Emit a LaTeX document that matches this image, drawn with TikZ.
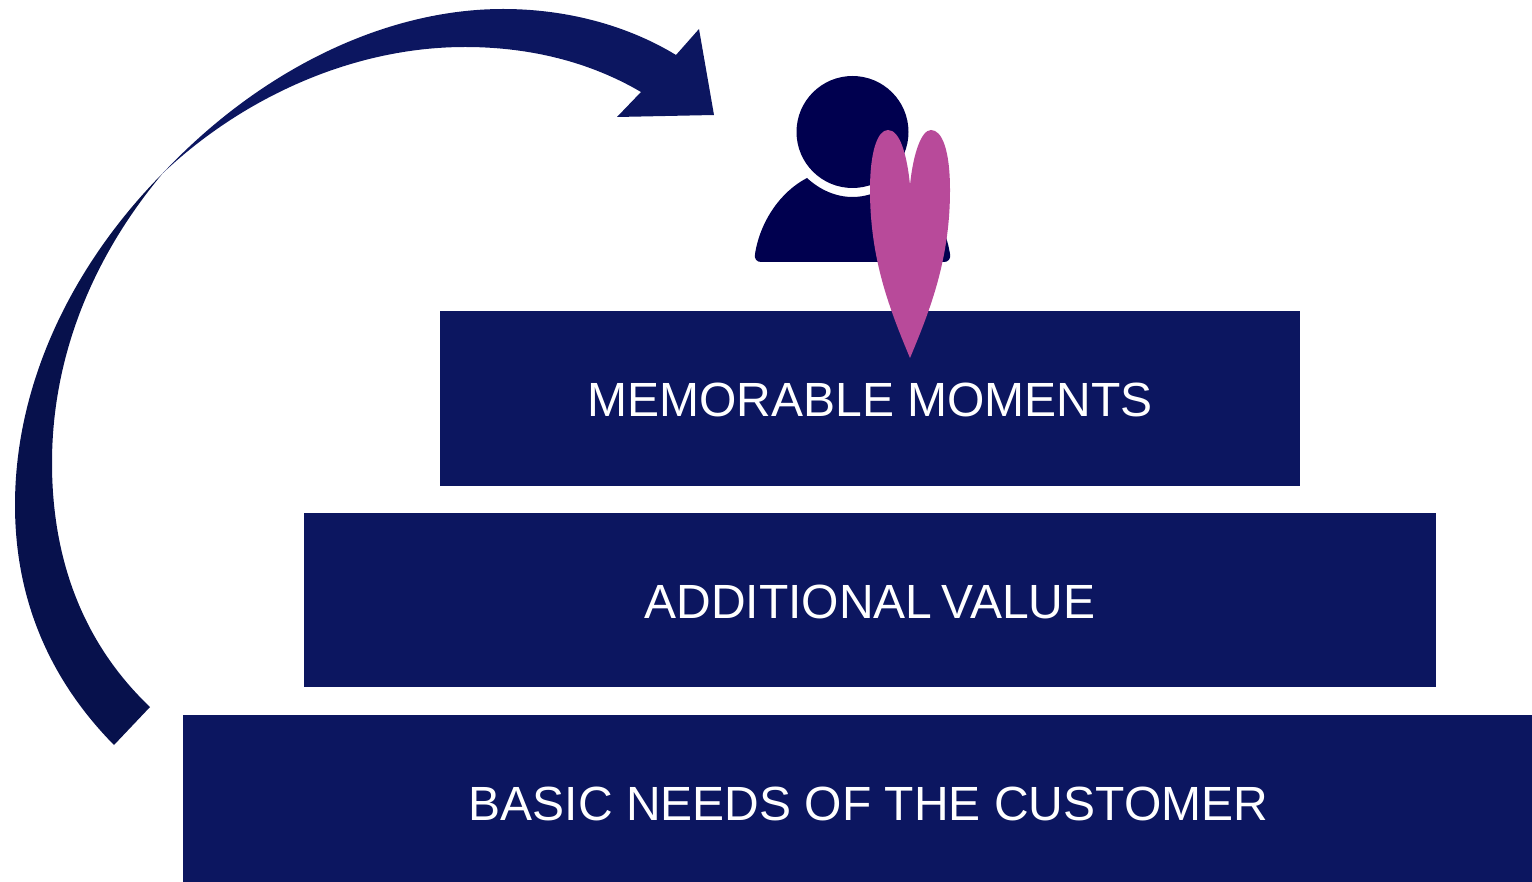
\documentclass[tikz,border=0pt]{standalone}
\usepackage{fontspec}
\setmainfont{Liberation Sans}
\usepackage{tikz}
\usetikzlibrary{positioning}

\definecolor{boxblue}{HTML}{0C1660}
\definecolor{arrowdark}{HTML}{07114C}
\definecolor{personblue}{HTML}{00004F}
\definecolor{heartpink}{HTML}{B84A9A}

\tikzset{
	level/.style={rectangle, fill=boxblue, text=white, inner sep=0pt, outer sep=0pt,
		text height=36pt, text depth=0pt, font=\fontsize{48}{58}\selectfont},
	person/.style={fill=personblue},
	heart/.style={fill=heartpink}
}

\begin{document}
\begin{tikzpicture}[x=1pt, y=-1pt]
			\useasboundingbox (0,0) rectangle (1532,882);
			
			\node[level, minimum width=1374pt, minimum height=167pt] (needs) at (870,798.5) {};
			\node[level, minimum width=1132pt, minimum height=174pt, above=28pt of needs] (value) {ADDITIONAL\kern-4pt\ VALUE};
			\node[level, minimum width=860pt, minimum height=175pt, above=27pt of value] (moments) {MEMORABLE MOMENTS};
			\node[level, fill=none] (needstext) at (868.5,802) {BASIC NEEDS OF THE CUSTOMER};
			
			% curved arrow
			\fill[arrowdark] (114,745) .. controls (50,680) and (15,600) .. (15,505)
				.. controls (15,380) and (75,262) .. (163,173)
				.. controls (90,260) and (52,360) .. (52,463)
				.. controls (52,570) and (90,650) .. (150,707) -- cycle;
			\fill[boxblue] (163,173) .. controls (260,70) and (385,9) .. (503,9)
				.. controls (570,9) and (630,27) .. (676,55)
				-- (699,29) -- (714,115) -- (617,117) -- (641,92)
				.. controls (590,62) and (530,47) .. (465,47)
				.. controls (350,47) and (240,100) .. (163,173) -- cycle;
			
			% person
			\fill[person] (852.5,132) circle (56);
			\fill[person] (807,178) .. controls (820,190) and (836,197) .. (852.5,197)
				.. controls (869,197) and (885,190) .. (898,178)
				.. controls (925,192) and (945,222) .. (950,254)
				.. controls (951,259) and (948,262) .. (944,262)
				-- (761,262) .. controls (757,262) and (754,259) .. (755,254)
				.. controls (760,222) and (780,192) .. (807,178) -- cycle;
			
			% heart
			\fill[heart] (910,358) .. controls (890,310) and (870,260) .. (870,190)
				.. controls (870,150) and (878,130) .. (888,130)
				.. controls (900,130) and (907,155) .. (910,185)
				.. controls (913,155) and (921,130) .. (931,130)
				.. controls (942,130) and (950,150) .. (950,190)
				.. controls (950,260) and (930,310) .. (910,358) -- cycle;
			
\end{tikzpicture}
\end{document}
